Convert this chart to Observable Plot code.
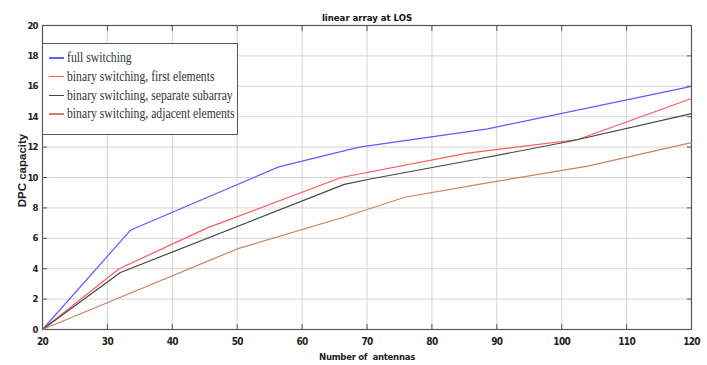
<!DOCTYPE html>
<html><head><meta charset="utf-8">
<script src="https://cdn.jsdelivr.net/npm/d3@7"></script>
<script src="https://cdn.jsdelivr.net/npm/@observablehq/plot@0.6"></script>
<style>
body{margin:0;background:#fff;}
#wrap{position:relative;width:707px;height:365px;}
#legend{position:absolute;left:42px;top:43px;width:196px;height:92px;border:1px solid #555;background:#fff;box-sizing:border-box;font-family:"Liberation Serif","Times New Roman",serif;font-size:15px;color:#333;}
.row{position:absolute;left:6px;height:18px;line-height:18px;white-space:nowrap;}
.sw{position:absolute;left:0;top:9px;width:15px;height:1.5px}
.tx{position:absolute;left:18px;top:0;transform:scaleX(0.78);transform-origin:0 50%;}
g[aria-label="y-axis tick label"] text{letter-spacing:-1px}
g[aria-label="x-axis tick label"] text{letter-spacing:-0.7px}
g[aria-label="x-axis label"] text{letter-spacing:-0.3px}
</style></head>
<body><div id="wrap"></div>
<script>
const title = "linear array at LOS";
const xLabel = "Number of  antennas";
const yLabel = "DPC capacity";
const xTicks = [20,30,40,50,60,70,80,90,100,110,120];
const yTicks = [0,2,4,6,8,10,12,14,16,18,20];

const seriesNames = ["full switching","binary switching, first elements","binary switching, separate subarray","binary switching, adjacent elements"];
const seriesColors = ["#5c5cff","#ff5a5a","#454545","#c98461"];

const xFull = [20, 33.6, 56.4, 68.8, 88.6, 120];
const yFull = [0, 6.55, 10.7, 12.0, 13.2, 16.0];
const xFirst = [20, 31.8, 45.5, 66, 85.5, 102.5, 120];
const yFirst = [0, 4.0, 6.7, 10.0, 11.6, 12.5, 15.2];
const xSeparate = [20, 32, 66.5, 70.5, 86.3, 101.5, 120];
const ySeparate = [0, 3.75, 9.55, 9.9, 11.15, 12.4, 14.2];
const xAdjacent = [20, 50, 66.5, 75.8, 87.9, 104, 120];
const yAdjacent = [0, 5.3, 7.4, 8.7, 9.6, 10.75, 12.3];

const xs = [xFull, xFirst, xSeparate, xAdjacent];
const ys = [yFull, yFirst, ySeparate, yAdjacent];
const data = [];
seriesNames.forEach((s,i)=>xs[i].forEach((x,j)=>data.push({series:s,x,y:ys[i][j]})));

const tickFont = "'DejaVu Sans Condensed','Liberation Sans Narrow',sans-serif";
const chart = Plot.plot({
  width:707, height:365,
  marginLeft:42, marginRight:16, marginTop:25, marginBottom:36,
  style:{fontFamily:tickFont, fontSize:"10px", fontWeight:"bold", color:"#222", background:"#fff"},
  x:{domain:[20,120]},
  y:{domain:[0,20]},
  color:{domain:seriesNames, range:seriesColors},
  marks:[
    Plot.gridX(xTicks,{stroke:"#ccc", strokeOpacity:1, strokeWidth:0.8}),
    Plot.gridY(yTicks,{stroke:"#ccc", strokeOpacity:1, strokeWidth:0.8}),
    Plot.axisX(xTicks,{anchor:"bottom", tickSize:0, tickPadding:8, label:null}),
    Plot.axisX({anchor:"bottom", ticks:[], label:xLabel, labelAnchor:"center", labelOffset:30, labelArrow:"none", fontSize:9.5}),
    Plot.axisX(xTicks,{anchor:"bottom", tickSize:-5, text:null, label:null, stroke:"#555"}),
    Plot.axisX(xTicks,{anchor:"top", tickSize:-5, text:null, label:null, stroke:"#555"}),
    Plot.axisY(yTicks,{anchor:"left", tickSize:0, tickPadding:5, label:null, fontSize:9.5}),
    Plot.text([yLabel],{frameAnchor:"left", rotate:-90, dx:-17, dy:-7, textAnchor:"middle", lineAnchor:"bottom", fontSize:11.5, fontWeight:"bold", fontFamily:"'Liberation Sans',Arial,sans-serif", fill:"#222"}),
    Plot.axisY(yTicks,{anchor:"left", tickSize:-5, text:null, label:null, stroke:"#555"}),
    Plot.axisY(yTicks,{anchor:"right", tickSize:-5, text:null, label:null, stroke:"#555"}),
    Plot.frame({stroke:"#555", strokeWidth:1.2}),
    Plot.line(data,{x:"x", y:"y", z:"series", stroke:"series", strokeWidth:1.2}),
    Plot.text([title],{frameAnchor:"top", dy:-11, fontSize:9.5, fontWeight:"bold", fill:"#111"})
  ]
});
document.getElementById("wrap").appendChild(chart);
const leg = document.createElement("div");
leg.id = "legend";
seriesNames.forEach((s,i)=>{
  const r = document.createElement("div");
  r.className="row";
  r.style.top = (4 + i*18.8) + "px";
  r.innerHTML = `<span class="sw" style="background:${seriesColors[i]}"></span><span class="tx">${s}</span>`;
  leg.appendChild(r);
});
document.getElementById("wrap").appendChild(leg);
</script></body></html>
